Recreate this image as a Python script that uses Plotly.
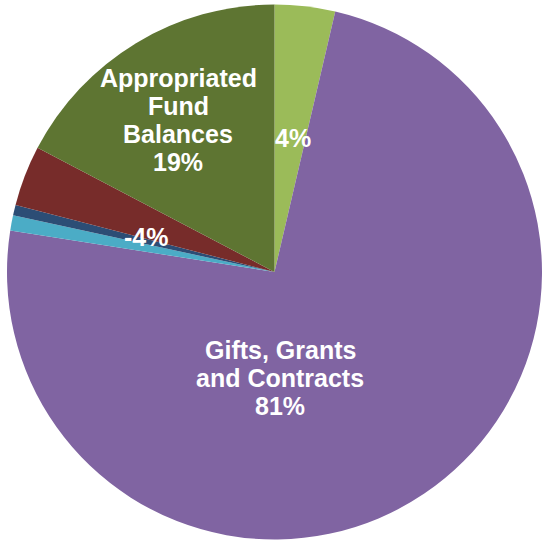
import plotly.graph_objects as go

# Sources of funds, as shares of the net total (one source is a net reduction)
categories = [
    "Other Sources",
    "Gifts, Grants and Contracts",
    "Investment Income",
    "Auxiliary Transfers",
    "Net Transfers Out",
    "Appropriated Fund Balances",
]
shares = [4, 81, 1.0, 0.7, -4, 19]
colors = ["#9BBB59", "#8064A2", "#4BACC6", "#2C4D75", "#772C2A", "#5E7532"]

# Which slices carry a label, and how the category name is broken into lines
label_lines = {
    0: [],
    1: ["Gifts, Grants", "and Contracts"],
    4: [],
    5: ["Appropriated", "Fund", "Balances"],
}

W, H = 542, 540
CX, CY, R = 275, 272, 268

# Slice sizes: a negative share is drawn by its magnitude
slice_sizes = [abs(v) for v in shares]

fig = go.Figure(
    go.Pie(
        labels=categories,
        values=slice_sizes,
        sort=False,
        direction="clockwise",
        rotation=0,
        marker=dict(colors=colors, line=dict(width=0)),
        textinfo="none",
        hoverinfo="skip",
        showlegend=False,
        domain=dict(x=[(CX - R) / W, 1.0], y=[0, 2 * R / H]),
    )
)

# Label block centres (pixels from top-left) for each labelled slice
label_centre = {
    0: (293, 138),
    1: (280, 378),
    4: (146, 237),
    5: (178, 120),
}
LINE_GAP = 28.3
FONT = dict(family="Liberation Sans, Arial, sans-serif", size=25, color="white", weight="bold")

annotations = []
for idx, (cx, cy) in label_centre.items():
    lines = label_lines[idx] + [f"{shares[idx]:g}%"]
    n = len(lines)
    for k, line in enumerate(lines):
        py = cy + (k - (n - 1) / 2) * LINE_GAP
        annotations.append(
            dict(
                text=line,
                x=cx / W,
                y=1 - py / H,
                xref="paper",
                yref="paper",
                xanchor="center",
                yanchor="middle",
                showarrow=False,
                font=FONT,
            )
        )

fig.update_layout(
    width=W,
    height=H,
    margin=dict(l=0, r=0, t=0, b=0),
    paper_bgcolor="white",
    plot_bgcolor="white",
    annotations=annotations,
)

fig.write_html("out.html")
